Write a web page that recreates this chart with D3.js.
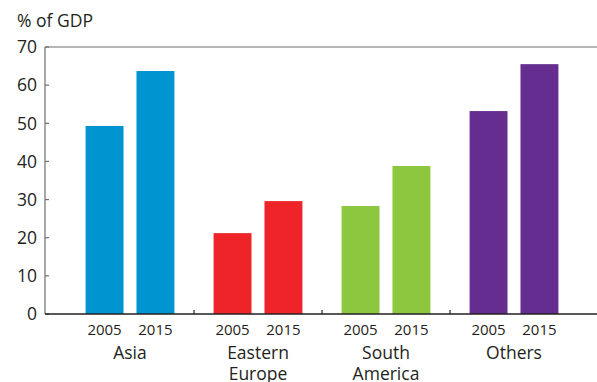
<!DOCTYPE html>
<html>
<head>
<meta charset="utf-8">
<script src="https://cdn.jsdelivr.net/npm/d3@7"></script>
<style>
  body { margin: 0; background: #fff; }
  svg { display: block; font-family: "Open Sans", "Noto Sans", sans-serif; }
</style>
</head>
<body>
<svg id="chart" width="597" height="382"></svg>
<script>
const regions = ["Asia", "Eastern Europe", "South America", "Others"];
const regionLines = [["Asia"], ["Eastern", "Europe"], ["South", "America"], ["Others"]];
const years = ["2005", "2015"];
const values2005 = [49.3, 21.2, 28.3, 53.2];
const values2015 = [63.7, 29.6, 38.8, 65.5];
const colors = ["#0094D1", "#EE2428", "#8DC63F", "#642D8F"];
const yTicks = [0, 10, 20, 30, 40, 50, 60, 70];

const svg = d3.select("#chart");
const textColor = "#231F20";

const axisLeftX = 45, axisRightX = 597;
const y = d3.scaleLinear().domain([0, 70]).range([314, 47]);

const x0 = d3.scaleBand().domain(regions).range([66, 578]);
const x1 = d3.scaleBand().domain(years).range([0, x0.bandwidth()])
  .paddingInner(0.255).paddingOuter(0.385);

const rows = regions.map((r, i) => ({
  region: r,
  color: colors[i],
  bars: [{ year: "2005", value: values2005[i] }, { year: "2015", value: values2015[i] }]
}));

// bars
const g = svg.append("g");
rows.forEach(row => {
  g.selectAll(null)
    .data(row.bars)
    .enter()
    .append("rect")
    .attr("x", d => x0(row.region) + x1(d.year))
    .attr("width", x1.bandwidth())
    .attr("y", d => y(d.value))
    .attr("height", d => y(0) - y(d.value))
    .attr("fill", row.color);
});

// y axis
const yAxis = svg.append("g").attr("transform", `translate(${axisLeftX},0)`);
yAxis.append("line")
  .attr("x1", 0).attr("x2", 0)
  .attr("y1", y(70)).attr("y2", y(0))
  .attr("stroke", "#6d6e70").attr("stroke-width", 1.2);
yAxis.selectAll(".tick")
  .data(yTicks)
  .enter()
  .append("line")
  .attr("x1", 0).attr("x2", 4)
  .attr("y1", d => y(d)).attr("y2", d => y(d))
  .attr("stroke", "#6d6e70").attr("stroke-width", 1.2);
yAxis.selectAll(".lbl")
  .data(yTicks)
  .enter()
  .append("text")
  .attr("x", -8)
  .attr("y", d => y(d))
  .attr("dy", "0.36em")
  .attr("text-anchor", "end")
  .attr("font-size", 17.5)
  .attr("fill", textColor)
  .text(d => d);

// top line at 70
svg.append("line")
  .attr("x1", axisLeftX).attr("x2", axisRightX)
  .attr("y1", y(70)).attr("y2", y(70))
  .attr("stroke", "#6d6e70").attr("stroke-width", 1.2);

// x axis
svg.append("line")
  .attr("x1", axisLeftX).attr("x2", axisRightX)
  .attr("y1", y(0)).attr("y2", y(0))
  .attr("stroke", "#231F20").attr("stroke-width", 1.4);

// separators between groups
svg.selectAll(".sep")
  .data(regions.slice(1))
  .enter()
  .append("line")
  .attr("x1", d => x0(d)).attr("x2", d => x0(d))
  .attr("y1", y(0)).attr("y2", y(0) - 4)
  .attr("stroke", "#231F20").attr("stroke-width", 1.2);

// year labels
rows.forEach(row => {
  svg.selectAll(null)
    .data(row.bars)
    .enter()
    .append("text")
    .attr("x", d => x0(row.region) + x1(d.year) + x1.bandwidth() / 2)
    .attr("y", 335)
    .attr("text-anchor", "middle")
    .attr("font-size", 15)
    .attr("fill", textColor)
    .text(d => d.year);
});

// region labels
regions.forEach((r, i) => {
  const t = svg.append("text")
    .attr("x", x0(r) + x0.bandwidth() / 2)
    .attr("y", 359)
    .attr("text-anchor", "middle")
    .attr("font-size", 17.5)
    .attr("fill", textColor);
  regionLines[i].forEach((line, j) => {
    t.append("tspan")
      .attr("x", x0(r) + x0.bandwidth() / 2)
      .attr("dy", j === 0 ? 0 : 21)
      .text(line);
  });
});

// unit label
svg.append("text")
  .attr("x", 17)
  .attr("y", 27)
  .attr("font-size", 17.5)
  .attr("fill", textColor)
  .text("% of GDP");
</script>
</body>
</html>
